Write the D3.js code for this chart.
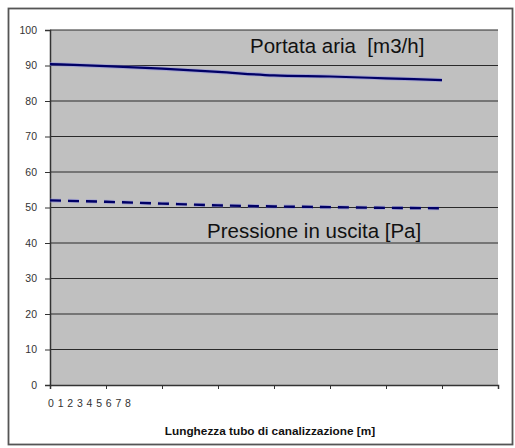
<!DOCTYPE html>
<html><head><meta charset="utf-8">
<script src="https://cdn.jsdelivr.net/npm/d3@7"></script>
<style>body{margin:0;background:#fff}svg{display:block}</style>
</head><body>
<script>
const categories = [0,1,2,3,4,5,6,7,8];
const portataValues = [90.4, 89.8, 89.1, 88.2, 87.2, 86.9, 86.4, 85.9];
const pressioneValues = [52.0, 51.6, 51.1, 50.6, 50.3, 50.1, 49.9, 49.8];
const yTicks = [0,10,20,30,40,50,60,70,80,90,100];
const xTickLabels = ["0","1","2","3","4","5","6","7","8"];
const portataLabel = "Portata aria  [m3/h]";
const pressioneLabel = "Pressione in uscita [Pa]";
const xAxisTitle = "Lunghezza tubo di canalizzazione [m]";

const W = 515, H = 448;
const svg = d3.select("body").append("svg").attr("width", W).attr("height", H);

svg.append("rect").attr("x", 8.5).attr("y", 8.5).attr("width", 504).attr("height", 436)
  .attr("fill", "#fff").attr("stroke", "#555").attr("stroke-width", 1.8);

const L = 50, R = 498, T = 30, B = 385;
const x = d3.scaleLinear().domain([0, 8]).range([L, R]);
const y = d3.scaleLinear().domain([0, 100]).range([B, T]);

svg.append("rect").attr("x", L).attr("y", T).attr("width", R - L).attr("height", B - T)
  .attr("fill", "#c0c0c0");

// gridlines
svg.append("g").selectAll("line").data(yTicks.filter(d => d > 0)).join("line")
  .attr("x1", L).attr("x2", R).attr("y1", d => y(d)).attr("y2", d => y(d))
  .attr("stroke", "#2a2a2a").attr("stroke-width", 1.2);

// y axis
const yAxis = svg.append("g").attr("transform", `translate(${L},0)`)
  .call(d3.axisLeft(y).tickValues(yTicks).tickSize(5).tickPadding(8));
yAxis.select(".domain").attr("stroke", "#333").attr("stroke-width", 1.5);
yAxis.selectAll(".tick line").attr("stroke", "#333");
yAxis.selectAll("text").attr("font-family", "Liberation Sans, Arial, sans-serif")
  .attr("font-size", 10.5).attr("fill", "#333");

// x axis
const xAxis = svg.append("g").attr("transform", `translate(0,${B})`)
  .call(d3.axisBottom(x).tickValues(categories).tickSize(4).tickFormat(""));
xAxis.select(".domain").attr("stroke", "#333").attr("stroke-width", 1.5);
xAxis.selectAll(".tick line").attr("stroke", "#333");

// compressed category labels
const xl = d3.scalePoint().domain(xTickLabels).range([51, 128]);
svg.append("g").selectAll("text").data(xTickLabels).join("text")
  .attr("x", d => xl(d)).attr("y", 407).attr("text-anchor", "middle")
  .attr("font-family", "Liberation Sans, Arial, sans-serif").attr("font-size", 10.5)
  .attr("fill", "#333").text(d => d);

const line = d3.line().x((d, i) => x(categories[i])).y(d => y(d)).curve(d3.curveMonotoneX);

svg.append("path").datum(portataValues).attr("d", line)
  .attr("fill", "none").attr("stroke", "#8888dd").attr("stroke-width", 4).attr("opacity", 0.5);
svg.append("path").datum(portataValues).attr("d", line)
  .attr("fill", "none").attr("stroke", "#000066").attr("stroke-width", 2.2);

svg.append("path").datum(pressioneValues).attr("d", line)
  .attr("fill", "none").attr("stroke", "#8888dd").attr("stroke-width", 4).attr("opacity", 0.5)
  .attr("stroke-dasharray", "11,7");
svg.append("path").datum(pressioneValues).attr("d", line)
  .attr("fill", "none").attr("stroke", "#000066").attr("stroke-width", 2.4)
  .attr("stroke-dasharray", "11,7");

svg.append("text").attr("x", 250).attr("y", 53)
  .attr("font-family", "Liberation Sans, Arial, sans-serif").attr("font-size", 20.5)
  .attr("fill", "#111").style("white-space", "pre").text(portataLabel);
svg.append("text").attr("x", 207).attr("y", 238)
  .attr("font-family", "Liberation Sans, Arial, sans-serif").attr("font-size", 20.5)
  .attr("fill", "#111").text(pressioneLabel);

svg.append("text").attr("x", 270).attr("y", 435).attr("text-anchor", "middle")
  .attr("font-family", "Liberation Sans, Arial, sans-serif").attr("font-size", 11.8)
  .attr("font-weight", "bold").attr("fill", "#111").text(xAxisTitle);
</script>
</body></html>
